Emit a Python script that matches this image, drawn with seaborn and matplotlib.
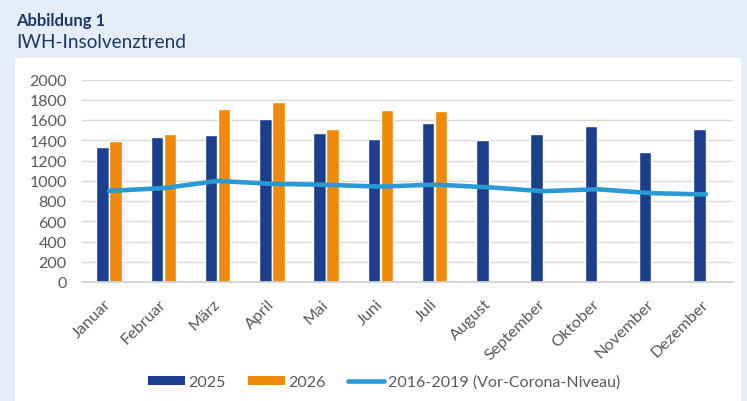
import matplotlib
matplotlib.use("Agg")
import matplotlib.pyplot as plt
from matplotlib.patches import Rectangle, Patch
from matplotlib.lines import Line2D
import numpy as np
import pandas as pd
import seaborn as sns

months = ["Januar", "Februar", "März", "April", "Mai", "Juni", "Juli",
          "August", "September", "Oktober", "November", "Dezember"]
vals_2025 = [1330, 1428, 1450, 1612, 1475, 1408, 1572, 1398, 1462, 1540, 1282, 1507]
vals_2026 = [1388, 1460, 1710, 1773, 1512, 1700, 1687, np.nan, np.nan, np.nan, np.nan, np.nan]
vals_ref = [900, 927, 998, 970, 960, 942, 962, 935, 897, 916, 877, 865]
y_ticks = [0, 200, 400, 600, 800, 1000, 1200, 1400, 1600, 1800, 2000]

C25 = "#1c3f8c"
C26 = "#f08a0b"
CREF = "#2a9ad4"
TXT = "#595959"
NAVY = "#1d3766"

sns.set_theme(style="white")
plt.rcParams["font.family"] = ["Lato", "DejaVu Sans"]

bars = pd.DataFrame({
    "Monat": months * 2,
    "Wert": vals_2025 + vals_2026,
    "Jahr": ["2025"] * 12 + ["2026"] * 12,
})
line = pd.DataFrame({"Monat": months, "Wert": vals_ref})

fig = plt.figure(figsize=(7.47, 4.02), dpi=100)
fig.patch.set_facecolor("#e5eef8")
fig.patches.append(Rectangle((15 / 747, 0), (741 - 15) / 747, (402 - 59) / 402,
                             transform=fig.transFigure, facecolor="white",
                             edgecolor="none", zorder=-5))

ax = fig.add_axes([82 / 747, 119 / 402, 651 / 747, 202.5 / 402])
ax.set_facecolor("none")

sns.barplot(data=bars, x="Monat", y="Wert", hue="Jahr", order=months,
            hue_order=["2025", "2026"], palette=[C25, C26], width=0.48,
            gap=0.04, errorbar=None, ax=ax, zorder=2, legend=False,
            saturation=1)
sns.pointplot(data=line, x="Monat", y="Wert", order=months, color=CREF,
              markers="", linewidth=3.3, errorbar=None, ax=ax, zorder=3)

ax.set_ylim(0, 2000)
ax.set_xlim(-0.5, 11.5)
ax.set_yticks(y_ticks)
ax.yaxis.grid(True, color="#d9d9d9", linewidth=1.0, zorder=0)
ax.set_axisbelow(True)
for s in ["top", "right", "left"]:
    ax.spines[s].set_visible(False)
ax.spines["bottom"].set_color("#d0d0d0")
ax.set_xlabel("")
ax.set_ylabel("")
ax.tick_params(axis="y", length=0, pad=11, labelsize=11.5, labelcolor=TXT)
ax.tick_params(axis="x", length=0, pad=14, labelsize=11.8, labelcolor=TXT)
for lab in ax.get_xticklabels():
    lab.set_rotation(45)
    lab.set_ha("right")
    lab.set_va("center")
    lab.set_rotation_mode("anchor")

handles = [Patch(facecolor=C25, edgecolor="none"),
           Patch(facecolor=C26, edgecolor="none"),
           Line2D([0], [0], color=CREF, linewidth=3.3, solid_capstyle="round")]
fig.legend(handles, ["2025", "2026", "2016-2019 (Vor-Corona-Niveau)"],
           loc="center", bbox_to_anchor=(384 / 747, 19 / 402), ncol=3,
           frameon=False, fontsize=11.5, labelcolor=TXT, handlelength=2.3,
           handleheight=0.45, handletextpad=0.2, columnspacing=1.4)

fig.text(16 / 747, 1 - 21 / 402, "Abbildung 1", fontsize=12, fontweight="bold",
         color=NAVY, va="center", ha="left")
fig.text(16 / 747, 1 - 43 / 402, "IWH-Insolvenztrend", fontsize=13.7,
         color=NAVY, va="center", ha="left")

fig.savefig("out.png", dpi=100, facecolor=fig.get_facecolor())
